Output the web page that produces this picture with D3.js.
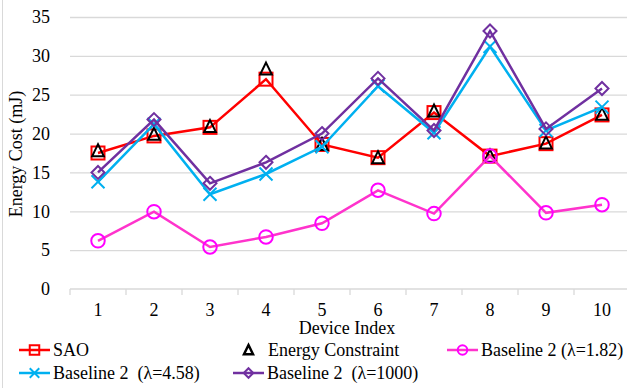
<!DOCTYPE html>
<html>
<head>
<meta charset="utf-8">
<script src="https://cdn.jsdelivr.net/npm/d3@7"></script>
<style>
  body { margin: 0; background: #fff; }
  text { font-family: "Liberation Serif", "Times New Roman", serif; }
</style>
</head>
<body>
<script>
// datos
const devices = [1, 2, 3, 4, 5, 6, 7, 8, 9, 10];
const sao = [17.5, 19.7, 20.8, 27.0, 18.6, 16.9, 22.7, 17.1, 18.7, 22.4];
const energyConstraint = [17.8, 19.9, 20.9, 28.3, 18.6, 16.9, 22.9, 17.1, 18.8, 22.5];
const base182 = [6.2, 9.95, 5.4, 6.7, 8.45, 12.7, 9.7, 17.1, 9.8, 10.85];
const base458 = [13.8, 21.2, 12.2, 14.8, 18.3, 26.1, 20.1, 31.2, 20.4, 23.4];
const base1000 = [15.0, 21.8, 13.6, 16.3, 20.0, 27.1, 20.4, 33.2, 20.6, 25.8];
const yTicks = [0, 5, 10, 15, 20, 25, 30, 35];

const series = [
  { name: "SAO", values: sao, line: "#FF0000", mark: "#FF0000", shape: "square" },
  { name: "Energy Constraint", values: energyConstraint, line: null, mark: "#000000", shape: "triangle" },
  { name: "Baseline 2 (\u03bb=1.82)", values: base182, line: "#FF33CC", mark: "#FF00FF", shape: "circle" },
  { name: "Baseline 2  (\u03bb=4.58)", values: base458, line: "#00B0F0", mark: "#00B0F0", shape: "cross" },
  { name: "Baseline 2  (\u03bb=1000)", values: base1000, line: "#7030A0", mark: "#7030A0", shape: "diamond" }
];

const W = 627, H = 388;
const plot = { left: 70, right: 630, top: 17, bottom: 289 };

const x = d3.scaleBand().domain(devices).range([plot.left, plot.right]);
const y = d3.scaleLinear().domain([0, 35]).range([plot.bottom, plot.top]);
const cx = d => x(d) + x.bandwidth() / 2;

const svg = d3.create("svg")
  .attr("width", W)
  .attr("height", H)
  .attr("viewBox", [0, 0, W, H]);

// borde izquierdo del area del grafico
svg.append("line")
  .attr("x1", 2.5).attr("x2", 2.5).attr("y1", 0).attr("y2", H)
  .attr("stroke", "#D9D9D9").attr("stroke-width", 1);

// eje y con rejilla
svg.append("g")
  .attr("transform", `translate(${plot.left},0)`)
  .call(d3.axisLeft(y).tickValues(yTicks).tickSize(-(plot.right - plot.left)).tickPadding(20))
  .call(g => g.select(".domain").remove())
  .call(g => g.selectAll(".tick line").attr("stroke", "#D9D9D9").attr("stroke-width", 1.3))
  .call(g => g.selectAll(".tick line").filter(d => d === 0).remove())
  .call(g => g.selectAll(".tick text")
    .attr("fill", "#000")
    .style("font-size", "18px")
    .style("font-family", "'Liberation Serif', serif"));

// eje x
svg.append("line")
  .attr("x1", plot.left).attr("x2", plot.right)
  .attr("y1", y(0)).attr("y2", y(0))
  .attr("stroke", "#D9D9D9").attr("stroke-width", 1.3);

svg.append("g")
  .selectAll("line")
  .data(devices)
  .join("line")
  .attr("x1", d => x(d)).attr("x2", d => x(d))
  .attr("y1", y(0)).attr("y2", y(0) + 6)
  .attr("stroke", "#D9D9D9").attr("stroke-width", 1.3);

svg.append("g")
  .attr("transform", `translate(0,${y(0)})`)
  .call(d3.axisBottom(x).tickSize(0).tickPadding(14))
  .call(g => g.select(".domain").remove())
  .call(g => g.selectAll(".tick text")
    .attr("fill", "#000")
    .style("font-size", "18px")
    .style("font-family", "'Liberation Serif', serif"));

// titulos de ejes
svg.append("text")
  .attr("x", 347).attr("y", 334)
  .attr("text-anchor", "middle")
  .style("font-size", "18px")
  .text("Device Index");

svg.append("text")
  .attr("transform", "translate(22,154) rotate(-90)")
  .attr("text-anchor", "middle")
  .style("font-size", "18px")
  .text("Energy Cost (mJ)");

// marcadores
function marker(sel, shape, color, s, sw) {
  const h = s / 2;
  if (shape === "square") {
    sel.append("rect").attr("x", -h).attr("y", -h).attr("width", s).attr("height", s);
  } else if (shape === "circle") {
    sel.append("circle").attr("r", h);
  } else if (shape === "triangle") {
    sel.append("path").attr("d", `M0,${-h}L${h * 0.9},${h * 0.85}L${-h * 0.9},${h * 0.85}Z`);
  } else if (shape === "diamond") {
    sel.append("path").attr("d", `M0,${-h}L${h},0L0,${h}L${-h},0Z`);
  } else if (shape === "cross") {
    sel.append("path").attr("d", `M${-h},${-h}L${h},${h}M${h},${-h}L${-h},${h}`);
  }
  sel.selectAll("*")
    .attr("fill", "none")
    .attr("stroke", color)
    .attr("stroke-width", sw);
}

const line = d3.line().x((d, i) => cx(devices[i])).y(d => y(d));

series.forEach(s => {
  const g = svg.append("g");
  if (s.line) {
    g.append("path")
      .attr("d", line(s.values))
      .attr("fill", "none")
      .attr("stroke", s.line)
      .attr("stroke-width", 2.5);
  }
  g.selectAll("g")
    .data(s.values)
    .join("g")
    .attr("transform", (d, i) => `translate(${cx(devices[i])},${y(d)})`)
    .each(function() {
      marker(d3.select(this), s.shape, s.mark, s.shape === "circle" ? 13.5 : 13, 2);
    });
});

// leyenda
const legendPos = [
  { x: 19, y: 350 }, { x: 233, y: 350 }, { x: 447, y: 350 },
  { x: 19, y: 373 }, { x: 233, y: 373 }
];

const legend = svg.append("g")
  .selectAll("g")
  .data(series)
  .join("g")
  .attr("transform", (d, i) => `translate(${legendPos[i].x},${legendPos[i].y})`);

legend.each(function(s) {
  const g = d3.select(this);
  if (s.line) {
    g.append("line")
      .attr("x1", 0).attr("x2", 31)
      .attr("stroke", s.line).attr("stroke-width", 2.5);
  }
  const m = g.append("g").attr("transform", "translate(15.5,0)");
  marker(m, s.shape, s.mark, s.shape === "triangle" ? 10 : 9.5, s.shape === "triangle" ? 2.5 : 2);
  g.append("text")
    .attr("x", s.line ? 34 : 35)
    .attr("dy", "0.35em")
    .style("font-size", "18px")
    .style("white-space", "pre")
    .attr("xml:space", "preserve")
    .text(s.name);
});

document.body.appendChild(svg.node());
</script>
</body>
</html>
